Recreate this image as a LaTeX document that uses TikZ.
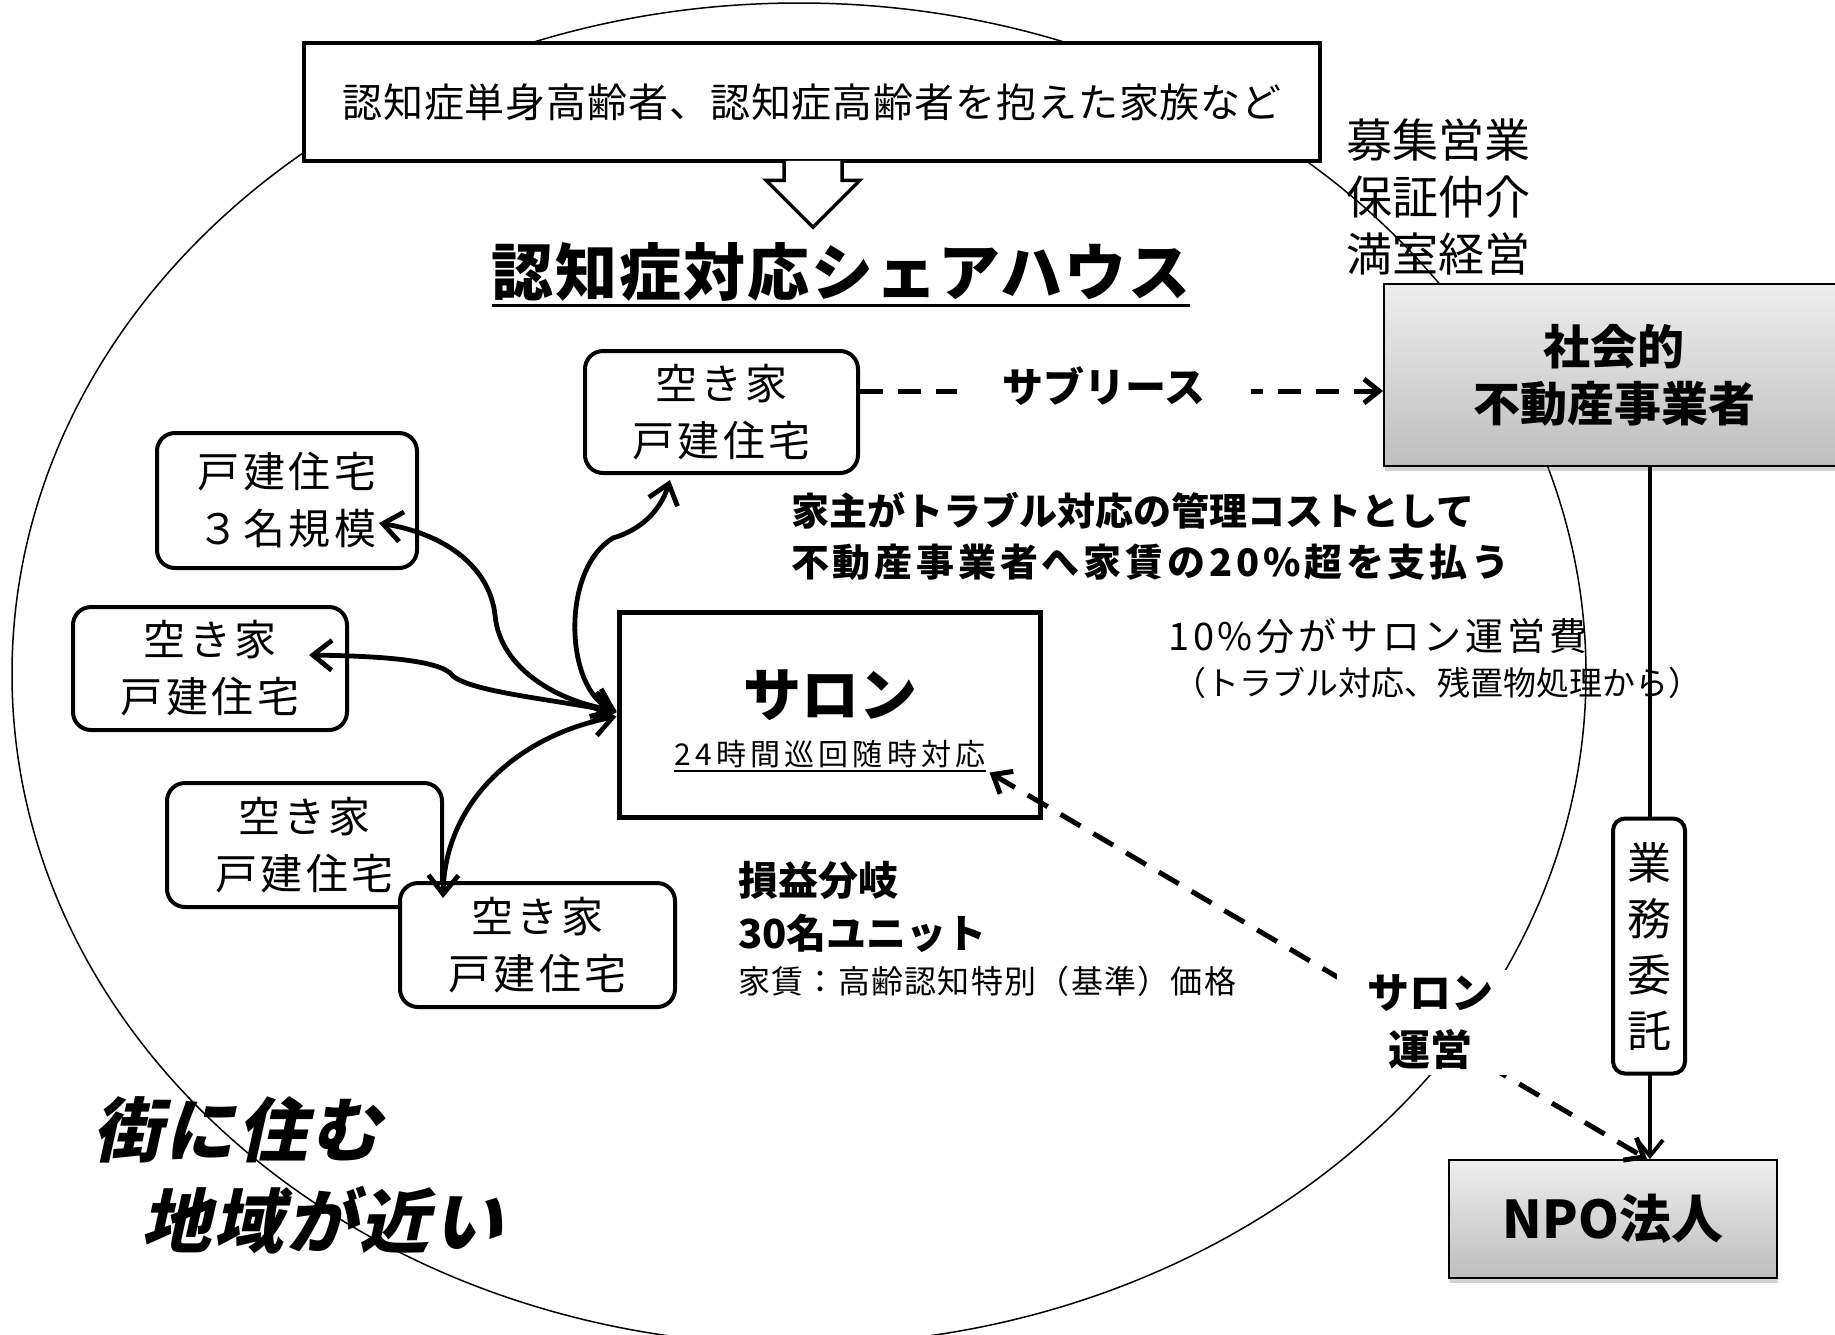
\documentclass[tikz,border=0pt]{standalone}
\usepackage{fontspec}
\setmainfont{Noto Sans CJK JP}
\newfontfamily\jpslant{Noto Sans CJK JP}[FakeSlant=0.22]
\usetikzlibrary{arrows.meta,shadows,calc}
\definecolor{gtop}{RGB}{238,238,238}
\definecolor{gbot}{RGB}{190,190,190}
\newcommand{\jfs}[2]{\fontsize{#1}{#2}\selectfont}
\newcommand{\jls}[1]{\addfontfeatures{LetterSpace=#1}}
\tikzset{
  rbox/.style={draw, line width=4pt, rounded corners=18pt, fill=white, align=center, inner sep=0pt, font=\jfs{42}{57}\jls{8}},
  gbox/.style={draw, line width=2pt, top color=gtop, bottom color=gbot, align=center, inner sep=0pt,
    drop shadow={opacity=0.35, shadow xshift=1pt, shadow yshift=-5pt}},
  conn/.style={line width=4.8pt, {Straight Barb[length=19pt,width=30pt]}-{Straight Barb[length=19pt,width=30pt]}},
  dashA/.style={line width=5pt, dash pattern=on 23pt off 15pt}
}
\begin{document}
\begin{tikzpicture}[x=1pt, y=-1pt, every node/.style={inner sep=0pt}]
\useasboundingbox (0,0) rectangle (1835,1334);
\fill[white] (0,0) rectangle (1835,1334);

% surrounding ellipse
\draw[line width=1.5pt] (799,674) ellipse [x radius=787pt, y radius=671pt];

% top box (down arrow callout)
\node[draw, line width=4.5pt, fill=white, minimum width=1016pt, minimum height=118pt,
  font=\jfs{40}{48}\jls{2.2}] (topbox) at (812,102) {認知症単身高齢者、認知症高齢者を抱えた家族など};
\draw[line width=3.5pt, fill=white, line join=miter]
  ($(topbox.south)+(-28,-2.5)$) -- ($(topbox.south)+(-28,17)$) -- ($(topbox.south)+(-46,17)$)
  -- ($(topbox.south)+(1,64)$) -- ($(topbox.south)+(48,17)$) -- ($(topbox.south)+(30,17)$)
  -- ($(topbox.south)+(30,-2.5)$);

% title
\node[font=\bfseries\jfs{62}{70}\jls{3}] (title) at (841,272) {認知症対応シェアハウス};
\draw[line width=3pt] ([yshift=-4pt]title.south west) -- ([yshift=-4pt]title.south east);

% right texts
\node[anchor=west, align=left, font=\jfs{46}{57}] (bosyu) at (1346,197) {募集営業\\保証仲介\\満室経営};

% gray boxes
\node[gbox, minimum width=460pt, minimum height=182pt, font=\bfseries\jfs{47}{57}] (soc) at (1614,375) {社会的\\不動産事業者};
\node[gbox, minimum width=328pt, minimum height=118pt, font=\bfseries\jfs{52}{60}] (npo) at (1613,1219) {NPO法人};

% salon
\node[draw, line width=5pt, fill=white, minimum width=421pt, minimum height=205pt] (salon) at (829.5,714.5) {};
\node[font=\bfseries\jfs{58}{64}] (salt) at (830,695) {サロン};
\node[font=\jfs{30}{36}\jls{14}] (sals) at (830,754) {24時間巡回随時対応};
\draw[line width=1.5pt] ([yshift=-3pt]sals.south west) -- ([yshift=-3pt]sals.south east);

% house boxes
\node[rbox, minimum width=273pt, minimum height=122pt] (b6) at (721.5,412) {空き家\\戸建住宅};
\node[rbox, minimum width=260pt, minimum height=135pt] (b3) at (287,500.5) {戸建住宅\\３名規模};
\node[rbox, minimum width=274pt, minimum height=123pt] (b1) at (210,668.5) {空き家\\戸建住宅};
\node[rbox, minimum width=275pt, minimum height=124pt] (b2) at (304.5,845) {空き家\\戸建住宅};
\node[rbox, minimum width=275pt, minimum height=124pt] (b4) at (537.5,945) {空き家\\戸建住宅};

% free texts
\node[anchor=west, align=left, font=\bfseries\jfs{38}{51}] (yanushi) at (791,536)
  {家主がトラブル対応の管理コストとして\\{\jls{10}不動産事業者へ家賃の20\%超を支払う}};
\node[anchor=west, font=\jfs{38}{44}\jls{10}] (ten) at (1168,636) {10\%分がサロン運営費};
\node[anchor=west, font=\jfs{33}{40}] (kakko) at (1173,683) {（トラブル対応、残置物処理から）};
\node[anchor=west, font=\bfseries\jfs{40}{48}] (son) at (738,880) {損益分岐};
\node[anchor=west, font=\bfseries\jfs{40}{48}] (unit) at (738,933) {30名ユニット};
\node[anchor=west, font=\jfs{32}{40}\jls{4}] (yachin) at (738,981) {家賃：高齢認知特別（基準）価格};
\node[anchor=west, font=\jpslant\bfseries\jfs{70}{80}\jls{4}] (machi) at (92,1130) {街に住む};
\node[anchor=west, font=\jpslant\bfseries\jfs{70}{80}\jls{4}] (chiiki) at (141,1220) {地域が近い};

% curved connectors
\coordinate (t3) at ($(b3.east)+(-40,22.5)$);
\coordinate (t1) at ($(b1.east)+(-40,-13.5)$);
\coordinate (t6) at ($(b6.south)+(-51.5,5)$);
\coordinate (t4) at ($(b4.north)+(-94.5,17)$);
\draw[conn] (t3) .. controls (450,535) and (490,570) .. (495,615)
  .. controls (500,670) and (560,702) .. ([yshift=4pt]salon.west);
\draw[conn] (t1) .. controls (380,656) and (440,660) .. (452,675)
  .. controls (468,692) and (560,700) .. ([yshift=2pt]salon.west);
\draw[conn] ([yshift=3pt]salon.west) .. controls (565,690) and (560,570) .. (613,538)
  .. controls (640,530) and (660,512) .. (t6);
\draw[conn] ([yshift=-2pt]salon.west) .. controls (520,735) and (445,800) .. (t4);

% sublease
\coordinate (sl) at ($(b6.east)+(0,-21)$);
\draw[dashA, -{Straight Barb[length=15pt,width=24pt]}] (sl) -- (sl -| soc.west);
\node[fill=white, inner xsep=46pt, inner ysep=3pt, font=\bfseries\jfs{41}{48}] (sub) at (1104,386) {サブリース};

% salon <-> NPO
\coordinate (sA) at ($(salon.south east)+(-53,-47)$);
\coordinate (nA) at ($(npo.north)+(34,0)$);
\draw[dashA, {Straight Barb[length=16pt,width=26pt]}-{Straight Barb[length=16pt,width=26pt]}] (sA) -- (nA);
\node[fill=white, align=center, inner xsep=30pt, inner ysep=5pt, font=\bfseries\jfs{42}{57}] (salop) at (1430,1022) {サロン\\運営};

% gyomu itaku
\coordinate (g1) at ($(soc.south)+(36,0)$);
\draw[line width=3.8pt, -{Straight Barb[length=16pt,width=26pt]}] (g1) -- (g1 |- npo.north);
\node[draw, line width=4pt, rounded corners=12pt, fill=white, minimum width=72pt, minimum height=255pt,
  align=center, font=\jfs{44}{56}] (itaku) at (1649,946) {業\\務\\委\\託};
\end{tikzpicture}
\end{document}
